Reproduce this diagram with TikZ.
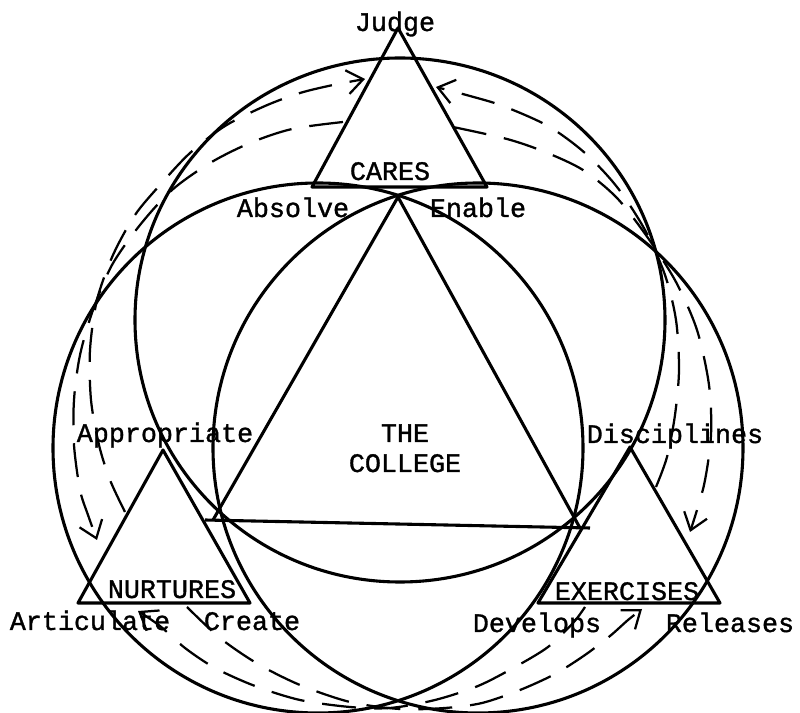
\documentclass[tikz,border=0pt]{standalone}
\usepackage{fontspec}
\setmonofont{Liberation Mono}[FakeBold=1.2]
\usetikzlibrary{arrows.meta}

\begin{document}
\begin{tikzpicture}[
  x=0.25mm, y=-0.25mm,
  every node/.style={font=\ttfamily\fontsize{19}{21}\selectfont, inner sep=0pt, anchor=base},
  ring/.style={line width=2.2pt},
  tri/.style={line width=2.2pt, line join=round},
  flow/.style={line width=1.6pt, dash pattern=on 8.5mm off 4.5mm},
  >={Straight Barb[length=4mm,width=6mm]}
]

\useasboundingbox (0,0) rectangle (800,713);

% ---------- Big circles ----------
\draw[ring] (400,320) ellipse [x radius=265, y radius=262]; % top circle
\draw[ring] (318,448) circle [radius=265]; % left circle
\draw[ring] (478,448) circle [radius=265]; % right circle

% ---------- Central triangle ----------
\draw[tri] (398,197) -- (213,520);
\draw[tri] (398,197) -- (580,528);
\draw[tri] (205,520) -- (590,528); % base

% ---------- Small triangles ----------
\draw[tri] (398,28) -- (487,187) -- (312,187) -- cycle;  % top
\draw[tri] (163,450) -- (250,603) -- (78,603) -- cycle;  % left
\draw[tri] (630,447) -- (720,603) -- (538,603) -- cycle; % right

% ---------- Dashed flows: top <-> left ----------
\draw[flow, ->] plot[smooth] coordinates {(125,512) (110,480) (99,445) (91,400) (90,350) (97,300)
  (113,255) (135,215) (160,185) (190,153) (225,126) (265,106) (300,93) (333,85) (365,79)};
\draw[flow, ->] plot[smooth] coordinates {(343,122) (292,129) (250,143) (210,163) (172,190) (140,225)
  (112,265) (93,310) (80,355) (74,400) (74,445) (80,490) (88,515) (97,540)};

% ---------- Dashed flows: top <-> right ----------
\draw[flow, ->] plot[smooth] coordinates {(656,487) (667,457) (675,415) (679,370) (676,320) (665,275)
  (645,230) (617,187) (585,153) (548,126) (503,106) (470,96) (436,87)};
\draw[flow, ->] plot[smooth] coordinates {(453,127) (507,139) (545,152) (583,170) (617,198) (648,238)
  (676,282) (697,330) (709,385) (711,435) (704,485) (690,532)};

% ---------- Dashed flows: left <-> right ----------
\draw[flow, ->] plot[smooth] coordinates {(187,607) (220,638) (258,664) (300,685) (350,702) (400,709)
  (445,708) (482,703) (520,690) (555,674) (585,655) (610,636) (628,620) (642,609)};
\draw[flow, ->] plot[smooth] coordinates {(585,607) (573,623) (548,647) (515,667) (478,686) (435,700)
  (390,708) (350,707) (300,700) (255,686) (215,668) (185,648) (160,626) (138,611)};

% ---------- Labels: top ----------
\node (judge) at (395,31) {Judge};
\node (cares) at (390,180) {CARES};
\node (absolve) at (293,217) {Absolve};
\node (enable) at (478,217) {Enable};

% ---------- Labels: centre ----------
\node (the) at (405,442) {THE};
\node (college) at (405,472) {COLLEGE};

% ---------- Labels: left ----------
\node (appropriate) at (165,442) {Appropriate};
\node (nurtures) at (172,598) {NURTURES};
\node (articulate) at (90,630) {Articulate};
\node (create) at (252,630) {Create};

% ---------- Labels: right ----------
\node (disciplines) at (675,443) {Disciplines};
\node (exercises) at (627,600) {EXERCISES};
\node (develops) at (537,632) {Develops};
\node (releases) at (730,632) {Releases};

\end{tikzpicture}
\end{document}
